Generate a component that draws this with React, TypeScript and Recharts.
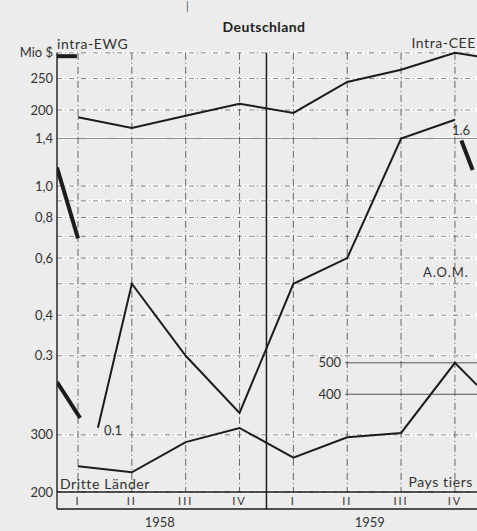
import React from 'react';
import { ComposedChart, Line, XAxis, YAxis, ReferenceLine } from 'recharts';

// ---- data ----
const quarterPos = [1, 2, 3, 4, 5, 6, 7, 8];
const quarterLabels = ['I', 'II', 'III', 'IV', 'I', 'II', 'III', 'IV'];
const yearPos = [2.52, 6.42];
const yearLabels = ['1958', '1959'];
const yearSeparator = 4.5;

// intra-EWG / intra-CEE (Mio $)
const intraEwg = [190, 176, 192, 209, 196, 244, 266, 300];
const intraEwgTail = [{ x: 8.41, v: 293 }];

// A.O.M. (Mio $), first quarter off scale (0.1), drawn at the break
const aomValues = [0.1, 0.5, 0.3, 0.2, 0.5, 0.6, 1.4, 1.6];
const aomBreak = [{ x: 1.37, v: 0.18 }];

// Dritte Länder / Pays tiers (Mio $)
const dritte = [240, 230, 285, 315, 255, 295, 304, 500];
const dritteTail = [{ x: 8.41, v: 427 }];

// neighbouring panels (cut off at the edges)
const stubTopLeft = [{ x: 0.61, v: 293 }, { x: 0.98, v: 293 }];
const stubMidLeft = [{ x: 0.61, v: 1.14 }, { x: 1, v: 0.69 }];
const stubBotLeft = [{ x: 0.61, v: 436 }, { x: 1.04, v: 338 }];
const stubMidRight = [{ x: 8.12, v: 1.38 }, { x: 8.33, v: 1.12 }];

// axis ticks
const topTicks = [300, 250, 200];
const topTickLabels = ['Mio $', '250', '200'];
const midGrid = [1.4, 1.0, 0.9, 0.8, 0.7, 0.6, 0.5, 0.4, 0.3];
const midTicks = [1.4, 1.0, 0.8, 0.6, 0.4, 0.3];
const midTickLabels = ['1,4', '1,0', '0,8', '0,6', '0,4', '0.3'];
const botTicks = [300, 200];
const botTickLabels = ['300', '200'];
const botInnerTicks = [500, 400];
const botInnerLabels = ['500', '400'];

const X_DOMAIN: [number, number] = [0.61, 8.41];
const TOP_DOMAIN: [number, number] = [13.32, 317.2];
const MID_DOMAIN: [number, number] = [0.1142, 2.718];
const BOT_DOMAIN: [number, number] = [200, 4762];
const INNER_START = 5.96;

const intraData = quarterPos.map((x, i) => ({ x, v: intraEwg[i] })).concat(intraEwgTail);
const aomData = aomBreak.concat(quarterPos.slice(1).map((x, i) => ({ x, v: aomValues[i + 1] })));
const dritteData = quarterPos.map((x, i) => ({ x, v: dritte[i] })).concat(dritteTail);

const FONT = 'Lato, "Open Sans", sans-serif';
const INK = '#1c1c1c';
const TXT = '#333';

const QuarterTick = (props: any) => {
  const { x, y, payload } = props;
  const v = payload.value;
  if (v === X_DOMAIN[0] || v === yearSeparator) {
    return <line x1={x} x2={x} y1={y} y2={y + 17} stroke={INK} strokeWidth={v === yearSeparator ? 1.5 : 1.3} />;
  }
  const idx = quarterPos.indexOf(v);
  return (
    <text x={x} y={y + 13} textAnchor="middle" fontSize={11} fill={TXT} fontFamily={FONT} letterSpacing={2}>
      {quarterLabels[idx]}
    </text>
  );
};

const YearTick = (props: any) => {
  const { x, y, payload } = props;
  const idx = yearPos.indexOf(payload.value);
  return (
    <text x={x} y={y + 18} textAnchor="middle" fontSize={13} fill={TXT} fontFamily={FONT}>
      {yearLabels[idx]}
    </text>
  );
};

const whiteGrid = { stroke: '#fbfbfb', strokeWidth: 3, strokeDasharray: '22 7' };
const darkGrid = { stroke: '#6a6a6a', strokeWidth: 0.8, strokeDasharray: '5 3 1 3' };
const tickLabel = (value: string) => ({ value, position: 'left' as const, fill: TXT, fontSize: 13, fontFamily: FONT, offset: 4 });

const label = (text: string, style: React.CSSProperties) => (
  <div style={{ position: 'absolute', lineHeight: 1, whiteSpace: 'nowrap', color: TXT, fontFamily: FONT, fontSize: 13, ...style }}>
    {text}
  </div>
);

export default function App() {
  return (
    <div style={{ position: 'absolute', left: 0, top: 0, width: 477, height: 531, background: '#ececec', overflow: 'hidden' }}>
      <ComposedChart width={477} height={531} margin={{ top: 45, right: 0, bottom: 0, left: 57 }}>
        <XAxis
          xAxisId="q"
          dataKey="x"
          type="number"
          domain={X_DOMAIN}
          allowDataOverflow
          ticks={[X_DOMAIN[0], ...quarterPos.slice(0, 4), yearSeparator, ...quarterPos.slice(4)]}
          interval={0}
          height={17}
          tickSize={0}
          tickMargin={0}
          tickLine={false}
          axisLine={{ stroke: INK, strokeWidth: 1.3 }}
          tick={<QuarterTick />}
        />
        <XAxis
          xAxisId="yr"
          dataKey="x"
          type="number"
          domain={X_DOMAIN}
          allowDataOverflow
          ticks={yearPos}
          interval={0}
          height={22}
          tickSize={0}
          tickMargin={0}
          tickLine={false}
          axisLine={{ stroke: INK, strokeWidth: 1.3 }}
          tick={<YearTick />}
        />
        <YAxis yAxisId="top" hide scale="log" domain={TOP_DOMAIN} allowDataOverflow type="number" />
        <YAxis yAxisId="mid" hide scale="log" domain={MID_DOMAIN} allowDataOverflow type="number" />
        <YAxis yAxisId="bot" hide scale="log" domain={BOT_DOMAIN} allowDataOverflow type="number" />

        {/* horizontal grid */}
        {topTicks.map((t) => (
          <ReferenceLine key={'tw' + t} xAxisId="q" yAxisId="top" y={t} {...whiteGrid} />
        ))}
        {midGrid.map((t) => (
          <ReferenceLine key={'mw' + t} xAxisId="q" yAxisId="mid" y={t} {...whiteGrid} />
        ))}
        {botTicks.map((t) => (
          <ReferenceLine key={'bw' + t} xAxisId="q" yAxisId="bot" y={t} {...whiteGrid} />
        ))}
        {topTicks.map((t, i) => (
          <ReferenceLine key={'td' + t} xAxisId="q" yAxisId="top" y={t} {...darkGrid} label={tickLabel(topTickLabels[i])} />
        ))}
        {midGrid.map((t) => {
          const i = midTicks.indexOf(t);
          return (
            <ReferenceLine
              key={'md' + t}
              xAxisId="q"
              yAxisId="mid"
              y={t}
              {...darkGrid}
              strokeDasharray={t === 1.4 ? undefined : darkGrid.strokeDasharray}
              label={i >= 0 ? tickLabel(midTickLabels[i]) : undefined}
            />
          );
        })}
        {botTicks.map((t, i) => (
          <ReferenceLine key={'bd' + t} xAxisId="q" yAxisId="bot" y={t} {...darkGrid} label={tickLabel(botTickLabels[i])} />
        ))}
        {botInnerTicks.map((t, i) => (
          <ReferenceLine
            key={'bi' + t}
            xAxisId="q"
            yAxisId="bot"
            segment={[{ x: INNER_START, y: t }, { x: X_DOMAIN[1], y: t }]}
            stroke="#444"
            strokeWidth={0.9}
            label={tickLabel(botInnerLabels[i])}
          />
        ))}

        {/* vertical grid */}
        {quarterPos.map((q) => (
          <ReferenceLine
            key={'v' + q}
            xAxisId="q"
            yAxisId="top"
            segment={[{ x: q, y: topTicks[0] }, { x: q, y: TOP_DOMAIN[0] }]}
            stroke="#555"
            strokeWidth={0.9}
            strokeDasharray="7 3 1 3"
          />
        ))}
        <ReferenceLine
          xAxisId="q"
          yAxisId="top"
          segment={[{ x: yearSeparator, y: topTicks[0] }, { x: yearSeparator, y: TOP_DOMAIN[0] }]}
          stroke={INK}
          strokeWidth={1.5}
        />
        <ReferenceLine
          xAxisId="q"
          yAxisId="top"
          segment={[{ x: X_DOMAIN[0], y: topTicks[0] }, { x: X_DOMAIN[0], y: TOP_DOMAIN[0] }]}
          stroke={INK}
          strokeWidth={1.4}
        />

        {/* series */}
        <Line xAxisId="q" yAxisId="top" data={intraData} dataKey="v" stroke={INK} strokeWidth={2} dot={false} isAnimationActive={false} />
        <Line xAxisId="q" yAxisId="mid" data={aomData} dataKey="v" stroke={INK} strokeWidth={2} dot={false} isAnimationActive={false} />
        <Line xAxisId="q" yAxisId="bot" data={dritteData} dataKey="v" stroke={INK} strokeWidth={2} dot={false} isAnimationActive={false} />

        <Line xAxisId="q" yAxisId="top" data={stubTopLeft} dataKey="v" stroke={INK} strokeWidth={4} dot={false} isAnimationActive={false} />
        <Line xAxisId="q" yAxisId="mid" data={stubMidLeft} dataKey="v" stroke={INK} strokeWidth={4} dot={false} isAnimationActive={false} />
        <Line xAxisId="q" yAxisId="bot" data={stubBotLeft} dataKey="v" stroke={INK} strokeWidth={4} dot={false} isAnimationActive={false} />
        <Line xAxisId="q" yAxisId="mid" data={stubMidRight} dataKey="v" stroke={INK} strokeWidth={4} dot={false} isAnimationActive={false} />
      </ComposedChart>

      {label('|', { left: 186, top: 0, fontSize: 11, color: '#555' })}
      {label('Deutschland', { left: 204, top: 20, width: 120, textAlign: 'center', fontWeight: 700, fontSize: 14, letterSpacing: 0.4, color: '#222' })}
      {label('intra-EWG', { left: 57, top: 37, fontSize: 14, letterSpacing: 0.6 })}
      {label('Intra-CEE', { right: 1, top: 36, fontSize: 14, letterSpacing: 0.6 })}
      {label('1.6', { left: 452, top: 124 })}
      {label('A.O.M.', { left: 423, top: 266, letterSpacing: 1 })}
      {label('0.1', { left: 104, top: 424 })}
      {label('Dritte Länder', { left: 60, top: 477, fontSize: 14, letterSpacing: 0.6 })}
      {label('Pays tiers', { right: 4, top: 475, fontSize: 14, letterSpacing: 0.6 })}
    </div>
  );
}
